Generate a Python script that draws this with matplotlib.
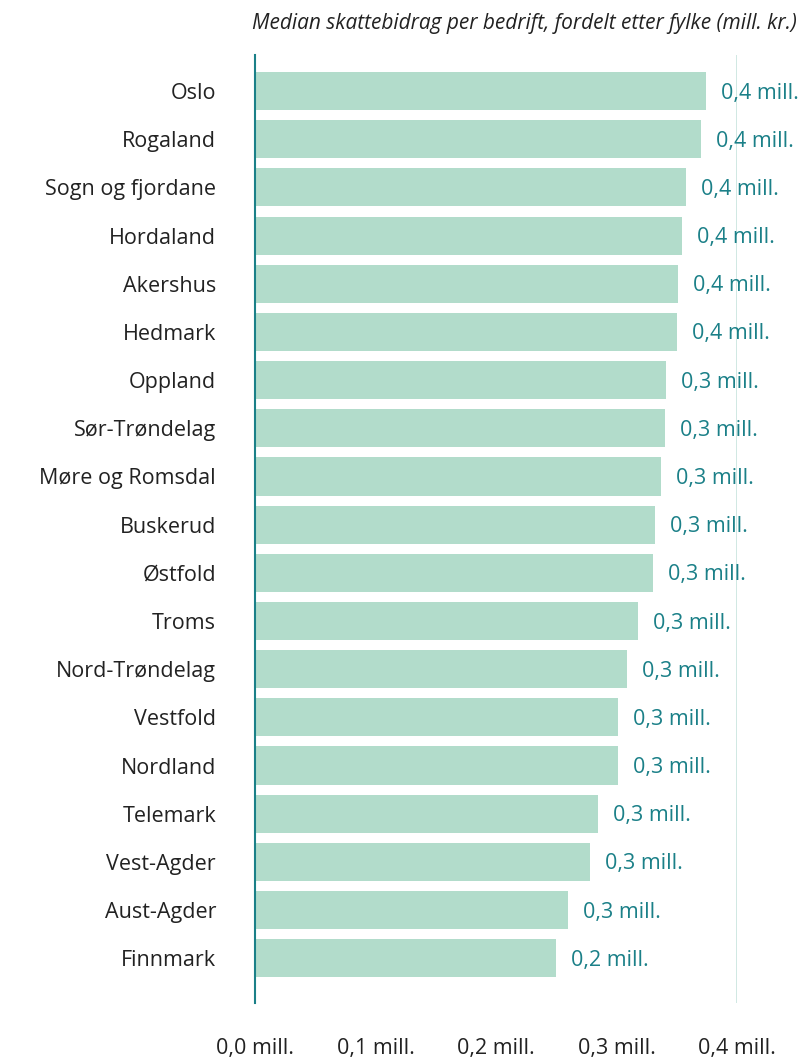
import matplotlib
matplotlib.use("Agg")
import matplotlib.pyplot as plt

categories = ["Oslo", "Rogaland", "Sogn og fjordane", "Hordaland", "Akershus", "Hedmark",
              "Oppland", "Sør-Trøndelag", "Møre og Romsdal", "Buskerud", "Østfold", "Troms",
              "Nord-Trøndelag", "Vestfold", "Nordland", "Telemark", "Vest-Agder", "Aust-Agder",
              "Finnmark"]
values = [0.374, 0.370, 0.358, 0.354, 0.351, 0.350, 0.341, 0.340, 0.337, 0.332, 0.330,
          0.318, 0.309, 0.301, 0.301, 0.285, 0.278, 0.260, 0.250]
value_labels = ["0,4 mill."] * 6 + ["0,3 mill."] * 12 + ["0,2 mill."]
xticks = [0.0, 0.1, 0.2, 0.3, 0.4]
xtick_labels = ["0,0 mill.", "0,1 mill.", "0,2 mill.", "0,3 mill.", "0,4 mill."]
title = "Median skattebidrag per bedrift, fordelt etter fylke (mill. kr.)"

plt.rcParams['font.family'] = ['Open Sans', 'DejaVu Sans']

W, H = 804, 1063
fig = plt.figure(figsize=(W / 100, H / 100), dpi=100)
x0, x1 = 255, 737
y0, y1 = 55, 1003
ax = fig.add_axes([x0 / W, 1 - y1 / H, (x1 - x0) / W, (y1 - y0) / H])

bar_color = "#b2dccb"
teal = "#1b8088"
ypos = list(range(len(categories)))
ax.barh(ypos, values, height=0.79, color=bar_color, zorder=2)
ax.set_xlim(0, 0.4)
ax.set_ylim(18.93, -0.75)

for y, v, lab in zip(ypos, values, value_labels):
    ax.annotate(lab, xy=(v, y), xytext=(15, -2), textcoords="offset pixels",
                ha="left", va="center", fontsize=15.5, color=teal, clip_on=False)

ax.axvline(0.4, color="#c8e4de", lw=1.2, zorder=1)
for s in ["top", "right", "bottom"]:
    ax.spines[s].set_visible(False)
ax.spines["left"].set_color(teal)
ax.spines["left"].set_linewidth(1.5)
ax.spines["left"].set_zorder(3)

ax.set_yticks(ypos)
ax.set_yticklabels(categories, fontsize=15.5, color="#222222")
ax.tick_params(axis="y", length=0, pad=28)
ax.set_xticks(xticks)
ax.set_xticklabels(xtick_labels, fontsize=15.5, color="#222222")
ax.tick_params(axis="x", length=0, pad=25)

fig.text(797 / W, 1 - 24 / H, title, ha="right", va="center", fontsize=15,
         style="italic", color="#222222")

fig.savefig("out.png", dpi=100)
